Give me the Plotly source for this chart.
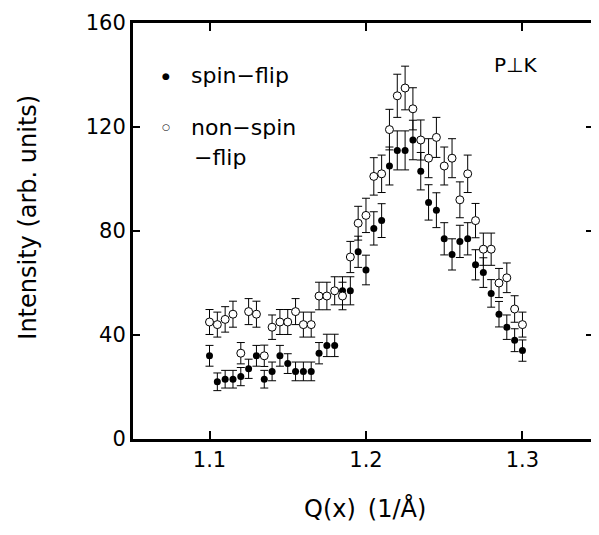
import plotly.graph_objects as go

# ---- data ----
q = [1.100, 1.105, 1.110, 1.115, 1.120, 1.125, 1.130, 1.135, 1.140, 1.145,
     1.150, 1.155, 1.160, 1.165, 1.170, 1.175, 1.180, 1.185, 1.190, 1.195,
     1.200, 1.205, 1.210, 1.215, 1.220, 1.225, 1.230, 1.235, 1.240, 1.245,
     1.250, 1.255, 1.260, 1.265, 1.270, 1.275, 1.280, 1.285, 1.290, 1.295,
     1.300]

spin_flip = [32, 22, 23, 23, 24, 27, 32, 23, 26, 32,
             29, 26, 26, 26, 33, 36, 36, 57, 57, 72,
             65, 81, 84, 105, 111, 111, 115, 103, 91, 88,
             77, 71, 76, 77, 67, 64, 56, 48, 43, 38,
             34]
spin_flip_err = [4.0, 3.4, 3.4, 3.4, 3.5, 3.7, 4.0, 3.4, 3.6, 4.0,
                 3.8, 3.6, 3.6, 3.6, 4.1, 4.3, 4.3, 5.4, 5.4, 6.0,
                 5.7, 6.4, 6.5, 7.3, 7.5, 7.5, 7.6, 7.2, 6.8, 6.7,
                 6.2, 6.0, 6.2, 6.2, 5.8, 5.7, 5.3, 4.9, 4.7, 4.4,
                 4.1]

non_spin_flip = [45, 44, 46, 48, 33, 49, 48, 32, 43, 45,
                 45, 49, 44, 44, 55, 55, 57, 55, 70, 83,
                 86, 101, 102, 119, 132, 135, 127, 115, 108, 116,
                 105, 108, 92, 102, 84, 73, 73, 60, 62, 50,
                 44]
non_spin_flip_err = [4.8, 4.8, 4.9, 5.0, 4.1, 5.0, 5.0, 4.1, 4.7, 4.8,
                     4.8, 5.0, 4.8, 4.8, 5.3, 5.3, 5.4, 5.3, 6.0, 6.5,
                     6.6, 7.2, 7.2, 7.8, 8.3, 8.4, 8.1, 7.7, 7.5, 7.7,
                     7.3, 7.5, 6.9, 7.2, 6.6, 6.2, 6.2, 5.6, 5.7, 5.1,
                     4.8]

y_ticks = [0, 40, 80, 120, 160]
x_ticks = [1.1, 1.2, 1.3]
x_tick_labels = ["1.1", "1.2", "1.3"]

# ---- layout geometry (page has an 8 px body margin) ----
OFF = 8
W, H = 599 - OFF, 535 - OFF
L, R, T = 133 - OFF, 3, 23 - OFF
PH = 416
B = H - T - PH
PW = W - L - R
PX_PER_Q = 1575.0
X0 = 1.1 - (210 - 133) / PX_PER_Q
X_RANGE = [X0, X0 + PW / PX_PER_Q]
Y_RANGE = [0, 160]


def px(xp):
    return (xp - OFF - L) / PW


def py(yp):
    return (T + PH - (yp - OFF)) / PH


FAMILY = "DejaVu Sans"
INK = "black"

fig = go.Figure()

fig.add_trace(go.Scatter(
    x=q, y=spin_flip, mode="markers", name="spin−flip",
    marker=dict(symbol="circle", size=7, color=INK),
    error_y=dict(type="data", array=spin_flip_err, visible=True,
                 color=INK, thickness=1, width=4),
    showlegend=False,
))
fig.add_trace(go.Scatter(
    x=q, y=non_spin_flip, mode="markers", name="non−spin−flip",
    marker=dict(symbol="circle", size=8, color="white",
                line=dict(width=1, color=INK)),
    error_y=dict(type="data", array=non_spin_flip_err, visible=True,
                 color=INK, thickness=1, width=4),
    showlegend=False,
))

fig.update_xaxes(
    range=X_RANGE, tickmode="array", tickvals=x_ticks, ticktext=x_tick_labels,
    showgrid=False, zeroline=False, showline=True, linecolor=INK,
    linewidth=3, mirror="allticks", ticks="inside", ticklen=8, tickwidth=2,
    tickcolor=INK, tickfont=dict(family=FAMILY, size=21, color=INK),
)
fig.update_yaxes(
    range=Y_RANGE, tickmode="array", tickvals=y_ticks,
    showgrid=False, zeroline=False, showline=True, linecolor=INK,
    linewidth=3, mirror="allticks", ticks="inside", ticklen=7, tickwidth=2,
    tickcolor=INK, tickfont=dict(family=FAMILY, size=21, color=INK),
)


def label(text, xp, yp, size, anchor="center", angle=0):
    return dict(text=text, x=px(xp), y=py(yp), xref="paper", yref="paper",
                xanchor=anchor, yanchor="middle", showarrow=False,
                textangle=angle,
                font=dict(family=FAMILY, size=size, color=INK))


annotations = [
    label("Intensity (arb. units)", 27, 217, 24, angle=-90),
    label("Q(x)\u2002(1/Å)", 367, 508, 24),
    label("P⊥K", 518, 65, 20),
    label("●", 166, 76, 9),
    label("spin−flip", 189, 75, 22, anchor="left"),
    label("○", 166, 127, 9),
    label("non−spin", 189, 127, 22, anchor="left"),
    label("−flip", 192, 157, 22, anchor="left"),
]

fig.update_layout(
    width=W, height=H, margin=dict(l=L, r=R, t=T, b=B),
    plot_bgcolor="white",
    annotations=annotations, showlegend=False,
)

fig.write_html("out.html")
